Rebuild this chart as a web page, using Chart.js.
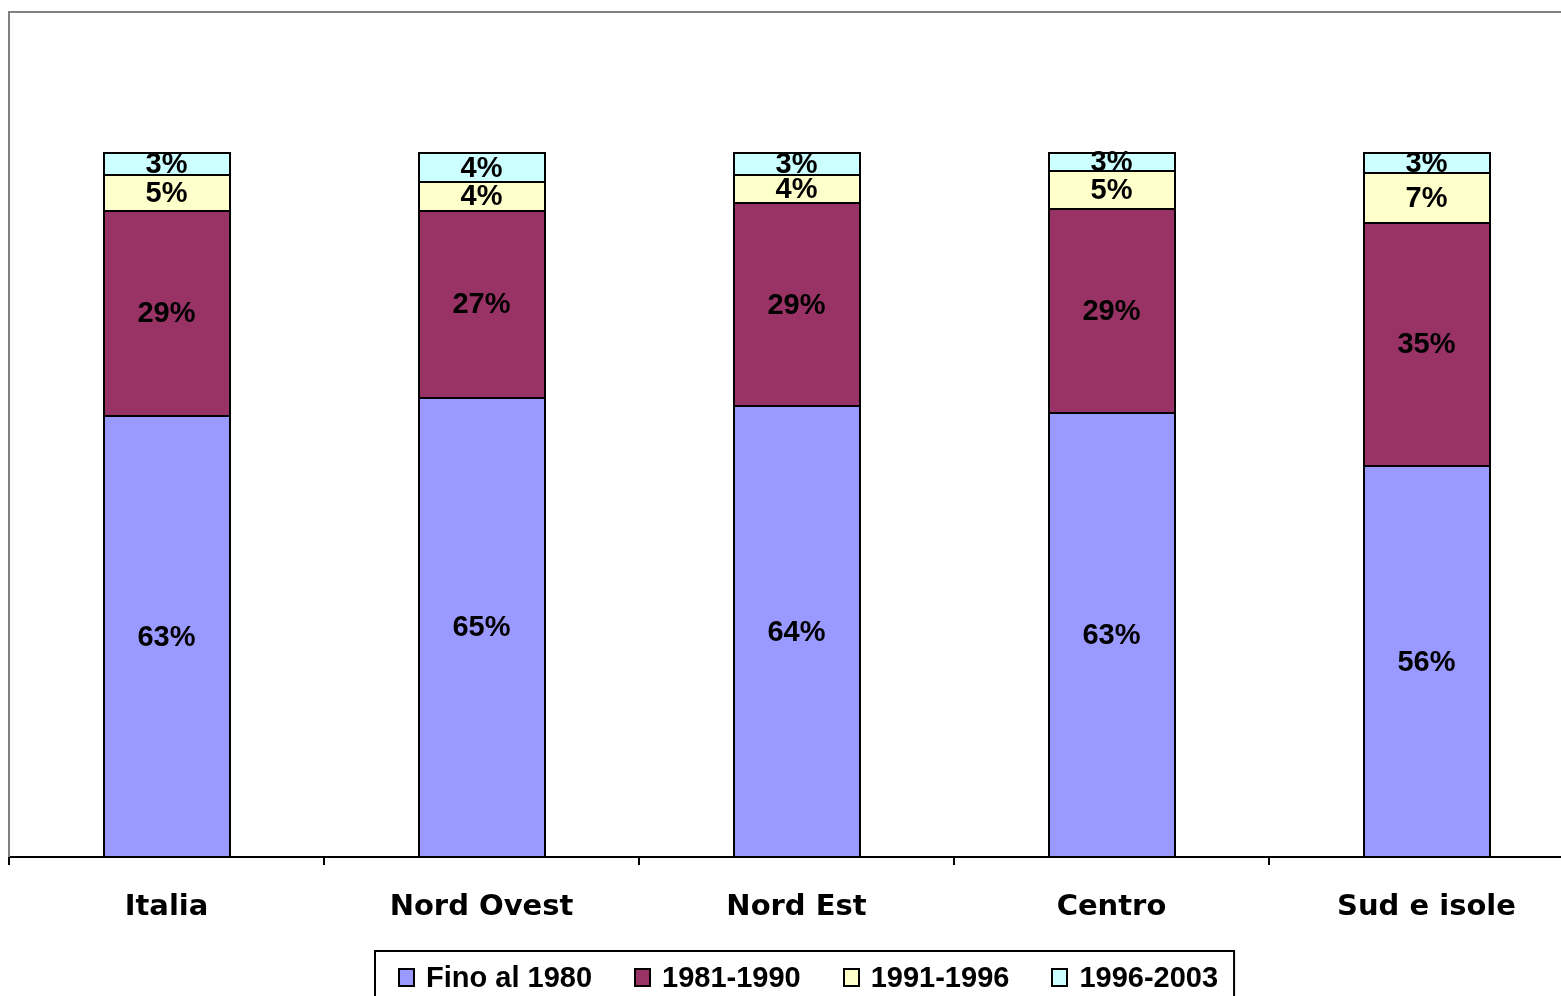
<!DOCTYPE html>
<html>
<head>
<meta charset="utf-8">
<script src="https://cdn.jsdelivr.net/npm/chart.js@4"></script>
<style>
html,body{margin:0;padding:0;background:#fff;overflow:hidden;}
#wrap{position:absolute;left:0;top:0;width:1584px;height:996px;}
</style>
</head>
<body>
<div id="wrap"><canvas id="c"></canvas></div>
<script>
const categories = ['Italia', 'Nord Ovest', 'Nord Est', 'Centro', 'Sud e isole'];
const seriesNames = ['Fino al 1980', '1981-1990', '1991-1996', '1996-2003'];
const fino1980 = [62.6, 65.2, 64.0, 63.1, 55.5];
const p1981_1990 = [29.2, 26.6, 28.9, 28.9, 34.6];
const p1991_1996 = [5.1, 4.0, 4.0, 5.4, 7.1];
const p1996_2003 = [3.1, 4.2, 3.1, 2.6, 2.8];
const colors = ['#9999FF', '#993366', '#FFFFCC', '#CCFFFF'];

const seriesData = [fino1980, p1981_1990, p1991_1996, p1996_2003];

const plotBorder = {
  id: 'plotBorder',
  beforeDatasetsDraw(chart) {
    const a = chart.chartArea, ctx = chart.ctx;
    ctx.save();
    ctx.strokeStyle = '#808080';
    ctx.lineWidth = 2;
    ctx.beginPath();
    ctx.moveTo(a.left, a.bottom);
    ctx.lineTo(a.left, a.top);
    ctx.lineTo(a.right + 5, a.top);
    ctx.stroke();
    ctx.restore();
  }
};

const barOutlines = {
  id: 'barOutlines',
  afterDatasetsDraw(chart) {
    const ctx = chart.ctx;
    ctx.save();
    ctx.strokeStyle = '#000';
    ctx.lineWidth = 2;
    chart.data.datasets.forEach((ds, di) => {
      const meta = chart.getDatasetMeta(di);
      meta.data.forEach((el) => {
        const w = el.width;
        const l = Math.round(el.x - w / 2), r = Math.round(el.x + w / 2);
        const t = Math.round(el.y), b = Math.round(el.base);
        ctx.strokeRect(l, t, r - l, b - t);
      });
    });
    ctx.restore();
  }
};

const dataLabels = {
  id: 'dataLabels',
  afterDatasetsDraw(chart) {
    const ctx = chart.ctx;
    ctx.save();
    ctx.font = 'bold 29px "Liberation Sans", Arial, sans-serif';
    ctx.fillStyle = '#000';
    ctx.textAlign = 'center';
    ctx.textBaseline = 'middle';
    chart.data.datasets.forEach((ds, di) => {
      const meta = chart.getDatasetMeta(di);
      meta.data.forEach((el, i) => {
        const cy = (el.y + el.base) / 2;
        ctx.fillText(Math.round(ds.data[i]) + '%', el.x, cy + 1);
      });
    });
    ctx.restore();
  }
};

const customLegend = {
  id: 'customLegend',
  afterDraw(chart) {
    const ctx = chart.ctx, a = chart.chartArea;
    ctx.save();
    ctx.font = 'bold 29px "Liberation Sans", Arial, sans-serif';
    const sq = 15, gapText = 12, gapItem = 43, padL = 24, padR = 16;
    const widths = chart.data.datasets.map(d => ctx.measureText(d.label).width);
    let total = 0;
    widths.forEach((w, i) => { total += sq + gapText + w + (i < widths.length - 1 ? gapItem : 0); });
    const boxW = total + padL + padR;
    const cx = (a.left + a.right) / 2 + 8;
    const boxL = Math.round(cx - boxW / 2);
    const boxT = 951;
    ctx.strokeStyle = '#000';
    ctx.lineWidth = 2;
    ctx.fillStyle = '#fff';
    ctx.fillRect(boxL, boxT, boxW, 80);
    ctx.strokeRect(boxL, boxT, boxW, 80);
    let x = boxL + padL;
    const cy = 978;
    chart.data.datasets.forEach((d, i) => {
      ctx.fillStyle = d.backgroundColor;
      ctx.fillRect(Math.round(x), cy - 9, sq, 17);
      ctx.lineWidth = 2;
      ctx.strokeStyle = '#000';
      ctx.strokeRect(Math.round(x), cy - 9, sq, 17);
      ctx.fillStyle = '#000';
      ctx.textAlign = 'left';
      ctx.textBaseline = 'middle';
      ctx.fillText(d.label, x + sq + gapText, cy + 1);
      x += sq + gapText + widths[i] + gapItem;
    });
    ctx.restore();
  }
};

new Chart(document.getElementById('c'), {
  type: 'bar',
  data: {
    labels: categories,
    datasets: seriesData.map((arr, i) => ({
      label: seriesNames[i],
      data: arr,
      backgroundColor: colors[i],
      borderWidth: 0,
      categoryPercentage: 1,
      barPercentage: 0.4
    }))
  },
  options: {
    responsive: true,
    maintainAspectRatio: false,
    animation: false,
    devicePixelRatio: 1,
    layout: { padding: { left: 9, top: 12, right: 0, bottom: 0 } },
    plugins: {
      legend: { display: false },
      tooltip: { enabled: false }
    },
    scales: {
      x: {
        stacked: true,
        offset: true,
        grid: {
          offset: true,
          drawOnChartArea: false,
          drawTicks: true,
          tickLength: 8,
          color: '#000',
          lineWidth: 2
        },
        border: { display: true, color: '#000', width: 2 },
        ticks: {
          color: '#000',
          padding: 25,
          font: { family: '"DejaVu Sans", Verdana, sans-serif', weight: 'bold', size: 29 },
          maxRotation: 0
        },
        afterFit(scale) { scale.height = 139; }
      },
      y: {
        stacked: true,
        display: false,
        min: 0,
        max: 120
      }
    }
  },
  plugins: [plotBorder, barOutlines, dataLabels, customLegend]
});
</script>
</body>
</html>
